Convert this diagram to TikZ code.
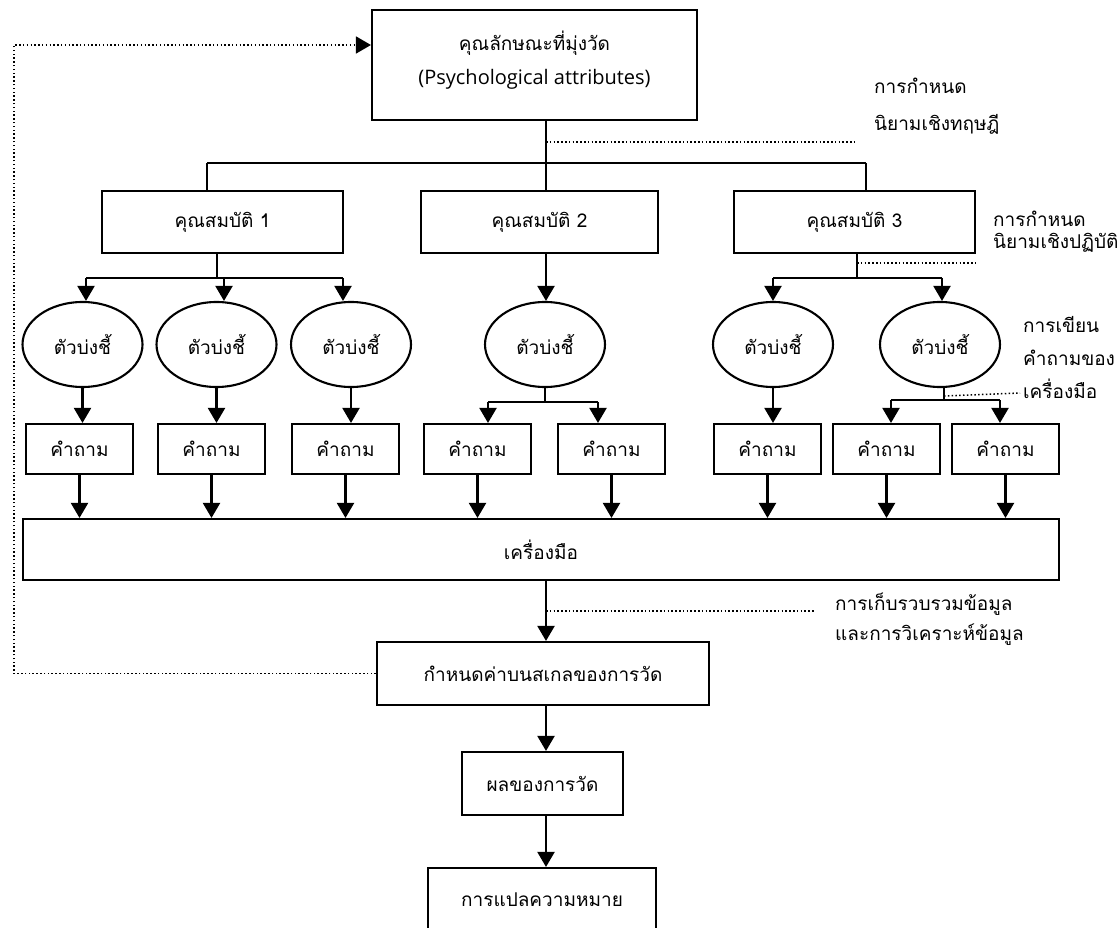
\documentclass[tikz,border=0pt]{standalone}
\usepackage{fontspec}
\setmainfont[Script=Thai]{Loma}
\newfontfamily\latinfont{Open Sans}
\usetikzlibrary{arrows.meta,shapes.geometric}

\begin{document}
\begin{tikzpicture}[x=1pt,y=-1pt,
  txt/.style={font=\fontsize{19}{33}\selectfont},
  box/.style={txt,draw,line width=2.1pt,rectangle,inner sep=0pt,align=center},
  ind/.style={txt,draw,line width=2.1pt,ellipse,minimum width=120pt,minimum height=85pt,inner sep=0pt},
  qbox/.style={box,minimum width=107pt,minimum height=50pt},
  link/.style={line width=2.1pt},
  arr/.style={line width=2.1pt,-{Triangle[length=15pt,width=17pt]}},
  note/.style={line width=1.5pt,dash pattern=on 1.5pt off 2.3pt},
  lbl/.style={txt,anchor=north west,inner sep=0pt,align=left}
]
% canvas
\fill[white] (0,0) rectangle (1120,928);
\clip (0,0) rectangle (1120,928);

% construct (two lines, set a little above the box centre)
\node[box,minimum width=325pt,minimum height=110pt] (attr) at (534.5,65)
  {\raisebox{4pt}[\height][\depth]{\begin{tabular}{@{}c@{}}
    คุณลักษณะที่มุ่งวัด\\[1pt]
    {\latinfont\fontsize{20}{33}\selectfont (Psychological attributes)}
  \end{tabular}}};

% properties
\node[box,minimum width=241pt,minimum height=62pt] (p1) at (222.5,222) {คุณสมบัติ 1};
\node[box,minimum width=237pt,minimum height=62pt] (p2) at (539.5,222) {คุณสมบัติ 2};
\node[box,minimum width=241pt,minimum height=62pt] (p3) at (854.5,222) {คุณสมบัติ 3};

% indicators
\node[ind] (e1) at (82.5,344.5) {ตัวบ่งชี้};
\node[ind] (e2) at (216.5,344.5) {ตัวบ่งชี้};
\node[ind] (e3) at (351,344.5) {ตัวบ่งชี้};
\node[ind] (e4) at (545,344.5) {ตัวบ่งชี้};
\node[ind] (e5) at (773,344.5) {ตัวบ่งชี้};
\node[ind] (e6) at (940,344.5) {ตัวบ่งชี้};

% items
\node[qbox] (q1) at (79.5,449) {คำถาม};
\node[qbox] (q2) at (211.5,449) {คำถาม};
\node[qbox] (q3) at (345.5,449) {คำถาม};
\node[qbox] (q4) at (477.5,449) {คำถาม};
\node[qbox] (q5) at (611.5,449) {คำถาม};
\node[qbox] (q6) at (767.5,449) {คำถาม};
\node[qbox] (q7) at (886.5,449) {คำถาม};
\node[qbox] (q8) at (1005.5,449) {คำถาม};

% instrument and the steps after it
\node[box,minimum width=1036pt,minimum height=61pt] (tool) at (541,549.5) {เครื่องมือ};
\node[box,minimum width=332pt,minimum height=63pt] (scale) at (543,673.5) {กำหนดค่าบนสเกลของการวัด};
\node[box,minimum width=161pt,minimum height=63pt] (result) at (542.5,783.5) {ผลของการวัด};
\node[box,minimum width=228pt,minimum height=63pt] (interp) at (542,899.5) {การแปลความหมาย};

% construct -> properties
\coordinate (t0) at (546,163);
\draw[link] (t0 |- attr.south) -- (t0);
\draw[link] (207,163 |- t0) -- (866,163 |- t0);
\draw[link] (t0) -- (t0 |- p2.north);
\draw[link] (207,163) -- (207,163 |- p1.north);
\draw[link] (866,163) -- (866,163 |- p3.north);

% property 1 -> indicators
\coordinate (b1) at (217,278);
\draw[link] (b1 |- p1.south) -- (b1);
\draw[link] (86,278) -- (343,278);
\draw[arr] (86,278) -- (86,278 |- e1.north);
\draw[arr] (224,278) -- (224,278 |- e2.north);
\draw[arr] (343,278) -- (343,278 |- e3.north);

% property 2 -> indicator
\draw[arr] (546,253 |- p2.south) -- (546,253 |- e4.north);

% property 3 -> indicators
\coordinate (b3) at (857,278);
\draw[link] (b3 |- p3.south) -- (b3);
\draw[link] (773,278) -- (942,278);
\draw[arr] (773,278) -- (773,278 |- e5.north);
\draw[arr] (942,278) -- (942,278 |- e6.north);

% indicators -> items
\draw[arr] (e1.south) -- (e1.south |- q1.north);
\draw[arr] (e2.south) -- (e2.south |- q2.north);
\draw[arr] (e3.south) -- (e3.south |- q3.north);
\draw[arr] (e5.south) -- (e5.south |- q6.north);
\coordinate (b4) at (545,402);
\draw[link] (e4.south) -- (b4);
\draw[link] (488,402) -- (598,402);
\draw[arr] (488,402) -- (488,402 |- q4.north);
\draw[arr] (598,402) -- (598,402 |- q5.north);
\coordinate (b6) at (944,400);
\draw[link] (b6 |- e6.south) -- (b6);
\draw[link] (891,400) -- (1000,400);
\draw[arr] (891,400) -- (891,400 |- q7.north);
\draw[arr] (1000,400) -- (1000,400 |- q8.north);

% items -> instrument
\foreach \q in {q1,q2,q3,q4,q5,q6,q7,q8}
  \draw[arr] (\q.south) -- (\q.south |- tool.north);

% instrument -> scale -> result -> interpretation
\draw[arr] (546,580 |- tool.south) -- (546,580 |- scale.north);
\draw[arr] (546,705 |- scale.south) -- (546,705 |- result.north);
\draw[arr] (546,815 |- result.south) -- (546,815 |- interp.north);

% feedback loop
\coordinate (fb) at (14,45);
\draw[note,-{Triangle[length=15pt,width=17pt]}] (scale.west) -| (fb) -- (fb -| attr.west);

% stage annotations
\draw[note] (546,142) -- (855,142);
\node[lbl,font=\fontsize{19}{37}\selectfont] (n1) at (874,78) {การกำหนด\\นิยามเชิงทฤษฎี};
\draw[note] (857,263) -- (976,263);
\node[lbl,font=\fontsize{19}{22}\selectfont] (n2) at (993,211) {การกำหนด\\นิยามเชิงปฏิบัติ};
\draw[note] (944,396) -- (1020,393);
\node[lbl] (n3) at (1023,316) {การเขียน\\คำถามของ\\เครื่องมือ};
\draw[note] (546,611) -- (814,611);
\node[lbl,font=\fontsize{19}{30}\selectfont] (n4) at (835,593) {การเก็บรวบรวมข้อมูล\\และการวิเคราะห์ข้อมูล};
\end{tikzpicture}
\end{document}
